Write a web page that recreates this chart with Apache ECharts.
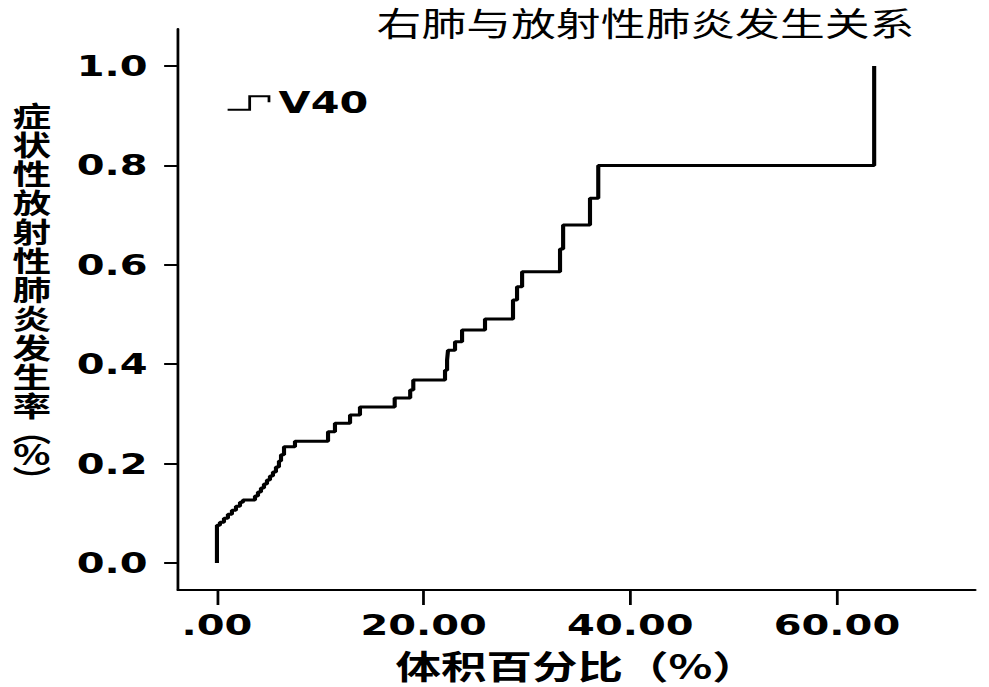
<!DOCTYPE html>
<html>
<head>
<meta charset="utf-8">
<script src="https://cdn.jsdelivr.net/npm/echarts@6/dist/echarts.min.js"></script>
<style>
html,body{margin:0;padding:0;background:#fff;overflow:hidden;}
#main{width:717px;height:687px;transform:scaleX(1.3794);transform-origin:0 0;}
</style>
</head>
<body>
<div id="main"></div>
<script>
// Data (step curve: x = volume %, y = incidence)
var volumePct = [0, 0, 0.29, 0.68, 1.06, 1.45, 1.84, 2.23, 2.52, 3.68, 3.97, 4.26, 4.55, 4.84, 5.13, 5.42, 5.71, 6.0, 6.2, 6.49, 7.55, 10.75, 11.42, 12.88, 13.84, 17.2, 18.7, 19.0, 22.07, 22.27, 22.36, 23.04, 23.72, 25.94, 28.65, 29.04, 29.53, 33.2, 33.5, 36.1, 36.9, 63.6];
var incidence = [0, 0.076, 0.082, 0.09, 0.098, 0.106, 0.114, 0.122, 0.127, 0.135, 0.143, 0.151, 0.159, 0.167, 0.175, 0.183, 0.193, 0.205, 0.218, 0.234, 0.245, 0.264, 0.281, 0.298, 0.314, 0.332, 0.348, 0.368, 0.388, 0.408, 0.428, 0.445, 0.469, 0.491, 0.529, 0.556, 0.586, 0.632, 0.68, 0.734, 0.80, 1.0];
var xTicks = [0, 20, 40, 60];
var yTicks = [0, 0.2, 0.4, 0.6, 0.8, 1.0];
var seriesName = 'V40';
var titleText = '右肺与放射性肺炎发生关系';
var xName = '体积百分比（%）';
var yNameMain = '症状性放射性肺炎发生率';
var yNameUnit = ['︵', '%', '︶'];

var points = volumePct.map(function (v, i) { return [v, incidence[i]]; });
var yNameText = yNameMain.split('').map(function (c) { return '{a|' + c + '}'; })
  .concat(['{b|' + yNameUnit[0] + '}', '{c|' + yNameUnit[1] + '}', '{c|' + yNameUnit[2] + '}'])
  .join('\n');

var chart = echarts.init(document.getElementById('main'), null, {renderer: 'svg'});
var latin = 'DejaVu Sans';
var cjk = '"Noto Sans CJK SC"';
chart.setOption({
  animation: false,
  backgroundColor: '#fff',
  title: {
    text: titleText, left: 273, top: 6, padding: 0,
    textStyle: {fontFamily: cjk, fontSize: 32.5, fontWeight: 'normal', color: '#000'}
  },
  legend: {
    left: 164, top: 88, padding: 0,
    data: [{name: seriesName, icon: 'path://M0,13.5L16,13.5L16,0L30,0L30,6'}],
    itemWidth: 30, itemHeight: 14,
    itemStyle: {color: 'transparent', borderColor: '#000', borderWidth: 2},
    textStyle: {fontFamily: latin, fontSize: 30, fontWeight: 'bold', color: '#000', padding: [0,0,0,2]}
  },
  grid: {left: 129, right: 10, top: 29, bottom: 97, containLabel: false},
  xAxis: {
    type: 'value', min: -3.775, max: 73.38,
    name: xName, nameLocation: 'middle', nameGap: 58,
    nameTextStyle: {fontFamily: cjk, fontSize: 33, fontWeight: 'bold', color: '#000'},
    axisLine: {show: true, onZero: false, lineStyle: {color: '#000', width: 2}},
    axisTick: {show: true, customValues: xTicks, length: 15, inside: false, lineStyle: {color: '#000', width: 2}},
    axisLabel: {customValues: xTicks, fontFamily: latin, fontSize: 29, fontWeight: 'bold', color: '#000', margin: 21,
      formatter: function (v) { return v === 0 ? '.00' : v.toFixed(2); }},
    splitLine: {show: false}
  },
  yAxis: {
    type: 'value', min: -0.0543, max: 1.0744,
    name: yNameText, nameLocation: 'middle', nameRotate: 0, nameGap: 106,
    nameTextStyle: {
      fontFamily: cjk, fontSize: 28, fontWeight: 'bold', color: '#000', align: 'center', verticalAlign: 'middle',
      padding: [0, 0, 27, 0],
      rich: {
        a: {fontFamily: cjk, fontSize: 28, fontWeight: 'bold', lineHeight: 29, color: '#000', align: 'center'},
        b: {fontFamily: cjk, fontSize: 28, fontWeight: 'bold', lineHeight: 20, color: '#000', align: 'center'},
        c: {fontFamily: cjk, fontSize: 28, fontWeight: 'bold', lineHeight: 26, color: '#000', align: 'center'}
      }
    },
    axisLine: {show: true, onZero: false, lineStyle: {color: '#000', width: 2}},
    axisTick: {show: true, customValues: yTicks, length: 10, inside: false, lineStyle: {color: '#000', width: 2}},
    axisLabel: {customValues: yTicks, fontFamily: latin, fontSize: 29, fontWeight: 'bold', color: '#000', margin: 22,
      formatter: function (v) { return v.toFixed(1); }},
    splitLine: {show: false}
  },
  series: [{
    name: seriesName, type: 'line', step: 'end', data: points,
    showSymbol: false, symbol: 'none',
    lineStyle: {color: '#000', width: 3},
    itemStyle: {color: '#000'}
  }]
});
</script>
</body>
</html>
